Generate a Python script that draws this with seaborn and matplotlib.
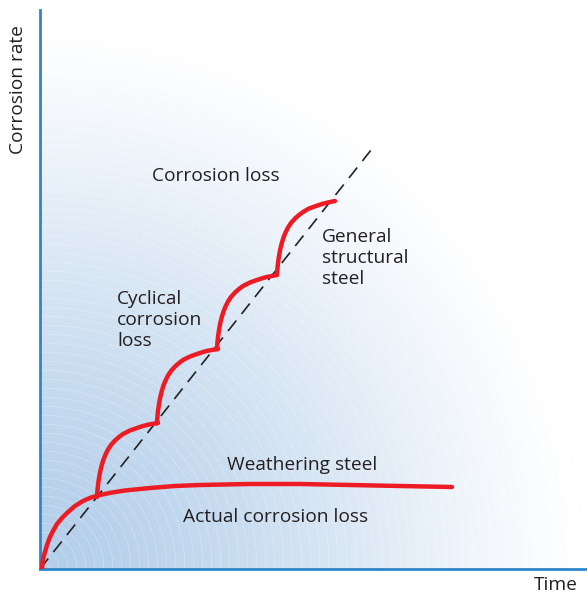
import numpy as np
import pandas as pd
import seaborn as sns
import matplotlib.pyplot as plt

# values (units ~ pixels from the origin)
weather_x = [2, 2.5, 3.5, 5, 7, 10, 13, 17, 22, 27, 35, 43, 51, 60, 72, 85,
             110, 135, 160, 210, 260, 310, 360, 412]
weather_y = [0, 6, 12, 17, 24, 32, 38, 45, 51, 56, 63, 68, 71.5, 74, 76.5, 78.5,
             81, 83, 84, 85, 85, 84, 83, 82]

cyclic_x = [57, 57.3, 58, 59, 60.3, 61.8, 63.5, 65.5, 68, 71, 75, 79, 83, 90, 97, 103, 108, 113, 118,
            117, 117.3, 118, 119, 120.3, 121.8, 123.5, 125.5, 128, 131, 135, 139, 143, 150, 157, 163, 168, 173, 178,
            177, 177.3, 178, 179, 180.3, 181.8, 183.5, 185.5, 188, 191, 195, 199, 203, 210, 217, 223, 228, 233, 237,
            237, 237.3, 238, 239, 240.3, 241.8, 243.5, 245.5, 248, 251, 255, 259, 263, 269, 276, 282, 287, 291, 295]
cyclic_y = [72, 77, 84, 91, 98, 104, 109.5, 114.5, 119.5, 124, 128.5, 132, 135, 138.5, 141, 143, 144.3, 145.2, 146,
            146, 151, 158, 165, 172, 178, 183.5, 188.5, 193.5, 198, 202.5, 206, 209, 212.5, 215, 217, 218.3, 219.2, 220,
            220, 225, 232, 239, 246, 252, 257.5, 262.5, 267.5, 272, 276.5, 280, 283, 286.5, 289, 291, 292.3, 293.2, 294,
            294, 299, 306, 313, 320, 326, 331.5, 336.5, 341.5, 346, 350.5, 354, 357, 360.5, 363, 365, 366.3, 367.2, 368]

trend_x = [0, 335]
trend_y = [0, 424]

xmax, ymax = 547, 559

sns.set_theme(style="white")
plt.rcParams['font.family'] = ['Open Sans', 'DejaVu Sans']

fig = plt.figure(figsize=(5.87, 5.96), dpi=100)
ax = fig.add_axes([40 / 587, 27 / 596, 547 / 587, 559 / 596])

# radial blue glow from the origin with faint rings
gx, gy = np.meshgrid(np.arange(xmax), np.arange(ymax))
r = np.hypot(gx, gy)
t = np.clip(r / 545, 0, 1)
f = (1 - t ** 1.5) ** 1.3
blue = np.array([180, 207, 234]) / 255
img = 1 - (1 - blue)[None, None, :] * f[..., None]
ring = ((r % 9) < 1.0) & (r < 520)
img[ring] = img[ring] * 0.8 + 0.2
ax.imshow(img, extent=[0, xmax, 0, ymax], origin='lower', aspect='auto', zorder=0)

red = '#ed1c24'
sns.lineplot(x=trend_x, y=trend_y, ax=ax, color='#222222', lw=1.2,
             linestyle=(0, (8, 5)), zorder=2)
sns.lineplot(x=weather_x, y=weather_y, ax=ax, color=red, lw=3.2, sort=False,
             estimator=None, zorder=3)
sns.lineplot(x=cyclic_x, y=cyclic_y, ax=ax, color=red, lw=3.2, sort=False,
             estimator=None, zorder=3)

ax.set_xlim(0, xmax)
ax.set_ylim(0, ymax)
ax.set_xticks([])
ax.set_yticks([])
for s in ['top', 'right']:
    ax.spines[s].set_visible(False)
for s in ['left', 'bottom']:
    ax.spines[s].set_color('#2d86c9')
    ax.spines[s].set_linewidth(2)

tc = '#231f20'
fs = 13.8
ax.text(112, 393, 'Corrosion loss', fontsize=fs, color=tc, va='center')
ax.text(282, 311, 'General\nstructural\nsteel', fontsize=fs, color=tc,
        va='center', linespacing=1.25)
ax.text(77, 249, 'Cyclical\ncorrosion\nloss', fontsize=fs, color=tc,
        va='center', linespacing=1.25)
ax.text(187, 104, 'Weathering steel', fontsize=fs, color=tc, va='center')
ax.text(143, 52, 'Actual corrosion loss', fontsize=fs, color=tc, va='center')

fig.text(18 / 587, 1 - 90 / 596, 'Corrosion rate', rotation=90, fontsize=fs,
         color=tc, ha='center', va='center')
fig.text(578 / 587, 1 - 585 / 596, 'Time', fontsize=fs, color=tc,
         ha='right', va='center')

fig.savefig('out.png', dpi=100)
